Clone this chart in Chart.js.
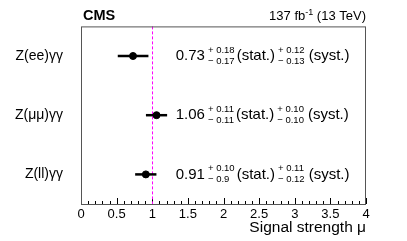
<!DOCTYPE html>
<html>
<head>
<meta charset="utf-8">
<script src="https://cdn.jsdelivr.net/npm/chart.js@4"></script>
<style>
  html, body { margin: 0; padding: 0; background: #fff; }
  #wrap { width: 407px; height: 241px; }
</style>
</head>
<body>
<div id="wrap"><canvas id="chart" width="407" height="241"></canvas></div>
<script>
const categories = ["Z(ee)γγ", "Z(μμ)γγ", "Z(ll)γγ"]
const mu = [0.73, 1.06, 0.91]
const statUp = [0.18, 0.11, 0.10]
const statDown = [0.17, 0.11, 0.09]
const systUp = [0.12, 0.10, 0.11]
const systDown = [0.13, 0.10, 0.12]
// printed as in the figure
const statUpText = ["0.18", "0.11", "0.10"]
const statDownText = ["0.17", "0.11", "0.9"]
const systUpText = ["0.12", "0.10", "0.11"]
const systDownText = ["0.13", "0.10", "0.12"]
const xTickLabels = ["0", "0.5", "1", "1.5", "2", "2.5", "3", "3.5", "4"]

const FONT = "'Liberation Sans', Arial, Helvetica, sans-serif"

const points = mu.map((m, i) => ({
    x: m,
    y: i,
    up: Math.sqrt(statUp[i] ** 2 + systUp[i] ** 2),
    down: Math.sqrt(statDown[i] ** 2 + systDown[i] ** 2)
}))

const decorations = {
    id: "decorations",
    beforeDatasetsDraw(chart){
        const ctx = chart.ctx
        const a = chart.chartArea
        const xs = chart.scales.x
        const ys = chart.scales.y
        ctx.save()

        // minor / major ticks pointing inside
        ctx.strokeStyle = "#000"
        ctx.lineWidth = 1
        for(let k = 0; k <= 40; k++){
            const px = Math.round(xs.getPixelForValue(k / 10)) + 0.5
            const len = k % 5 === 0 ? 6 : 3
            ctx.beginPath()
            ctx.moveTo(px, a.bottom)
            ctx.lineTo(px, a.bottom - len)
            ctx.stroke()
        }

        // SM expectation line
        const x1 = Math.round(xs.getPixelForValue(1)) + 0.5
        ctx.strokeStyle = "#ff00ff"
        ctx.setLineDash([3, 2])
        ctx.beginPath()
        ctx.moveTo(x1, a.top)
        ctx.lineTo(x1, a.bottom)
        ctx.stroke()
        ctx.setLineDash([])

        // error bars
        ctx.strokeStyle = "#000"
        ctx.lineWidth = 2.5
        points.forEach(p => {
            const py = ys.getPixelForValue(p.y)
            ctx.beginPath()
            ctx.moveTo(xs.getPixelForValue(p.x - p.down), py)
            ctx.lineTo(xs.getPixelForValue(p.x + p.up), py)
            ctx.stroke()
        })
        ctx.restore()
    },
    afterDraw(chart){
        const ctx = chart.ctx
        const a = chart.chartArea
        const xs = chart.scales.x
        const ys = chart.scales.y
        ctx.save()

        // frame
        ctx.strokeStyle = "#555"
        ctx.lineWidth = 1
        ctx.strokeRect(a.left + 0.5, a.top + 0.5, a.right - a.left - 1, a.bottom - a.top)

        // headers
        ctx.fillStyle = "#000"
        ctx.textBaseline = "alphabetic"
        ctx.textAlign = "left"
        ctx.font = "bold 14.5px " + FONT
        ctx.fillText("CMS", a.left + 2, a.top - 6)
        ctx.textAlign = "right"
        ctx.font = "13px " + FONT
        const tail = " (13 TeV)"
        const tw = ctx.measureText(tail).width
        ctx.fillText(tail, a.right, a.top - 6)
        ctx.font = "9px " + FONT
        const sw = ctx.measureText("-1").width
        ctx.fillText("-1", a.right - tw, a.top - 11)
        ctx.font = "13px " + FONT
        ctx.fillText("137 fb", a.right - tw - sw, a.top - 6)

        // result text
        ctx.textAlign = "left"
        ctx.textBaseline = "middle"
        points.forEach((p, i) => {
            const py = ys.getPixelForValue(p.y)
            let x = xs.getPixelForValue(1.33)
            ctx.font = "15px " + FONT
            const val = mu[i].toFixed(2)
            ctx.fillText(val, x, py)
            x += ctx.measureText(val).width + 3
            ctx.font = "9.5px " + FONT
            ctx.fillText("+ " + statUpText[i], x, py - 6)
            ctx.fillText("− " + statDownText[i], x, py + 5)
            x += Math.max(ctx.measureText("+ " + statUpText[i]).width, ctx.measureText("− " + statDownText[i]).width) + 2
            ctx.font = "15px " + FONT
            ctx.fillText("(stat.)", x, py)
            x += ctx.measureText("(stat.)").width + 3
            ctx.font = "9.5px " + FONT
            ctx.fillText("+ " + systUpText[i], x, py - 6)
            ctx.fillText("− " + systDownText[i], x, py + 5)
            x += Math.max(ctx.measureText("+ " + systUpText[i]).width, ctx.measureText("− " + systDownText[i]).width) + 4
            ctx.font = "15px " + FONT
            ctx.fillText("(syst.)", x, py)
        })
        ctx.restore()
    }
}

new Chart(document.getElementById("chart"), {
    type: "scatter",
    data: {
        datasets: [{
            data: points,
            backgroundColor: "#000",
            borderColor: "#000",
            pointRadius: 3.5,
            pointHoverRadius: 3.5
        }]
    },
    options: {
        responsive: false,
        animation: false,
        events: [],
        layout: { padding: { left: 0, right: 41, top: 26, bottom: 0 } },
        plugins: { legend: { display: false }, tooltip: { enabled: false } },
        scales: {
            x: {
                type: "linear",
                min: 0,
                max: 4,
                afterFit(scale){ scale.height = 37 },
                afterBuildTicks(scale){
                    scale.ticks = xTickLabels.map(t => ({ value: parseFloat(t) }))
                },
                grid: { display: false, drawTicks: false },
                border: { display: false },
                ticks: {
                    padding: 3,
                    color: "#000",
                    font: { family: FONT, size: 13 },
                    maxRotation: 0,
                    callback: (v, i) => xTickLabels[i]
                },
                title: {
                    display: true,
                    text: "Signal strength μ",
                    align: "end",
                    color: "#000",
                    font: { family: FONT, size: 15.5 },
                    padding: { top: 0, bottom: 4 }
                }
            },
            y: {
                type: "linear",
                min: -0.5,
                max: 2.5,
                reverse: true,
                afterFit(scale){ scale.width = 81 },
                afterBuildTicks(scale){
                    scale.ticks = categories.map((c, i) => ({ value: i }))
                },
                grid: { display: false, drawTicks: false },
                border: { display: false },
                ticks: {
                    padding: 18,
                    color: "#000",
                    font: { family: FONT, size: 14 },
                    callback: (v, i) => categories[i]
                }
            }
        }
    },
    plugins: [decorations]
})
</script>
</body>
</html>
